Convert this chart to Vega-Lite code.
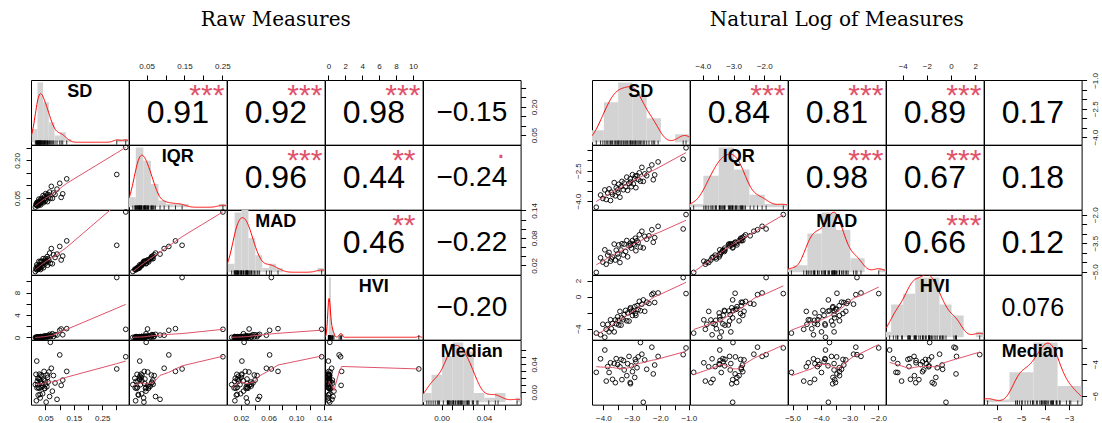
{
"$schema":"https://vega.github.io/schema/vega-lite/v6.json",
"background":"white",
"padding":{"left":12,"top":9,"right":0,"bottom":0},
"datasets":{
"raw":[
{"SD":0.01426,"IQR":0.01357,"MAD":0.006474,"HVI":0.01046,"Median":0.011},
{"SD":0.01657,"IQR":0.02472,"MAD":0.01398,"HVI":0.00848,"Median":0.02573},
{"SD":0.01795,"IQR":0.02086,"MAD":0.01111,"HVI":0.03143,"Median":-0.012},
{"SD":0.01925,"IQR":0.03174,"MAD":0.02128,"HVI":0.00622,"Median":0.0446},
{"SD":0.02024,"IQR":0.01984,"MAD":0.009953,"HVI":0.01674,"Median":0.006346},
{"SD":0.02128,"IQR":0.02732,"MAD":0.01608,"HVI":0.03081,"Median":0.01576},
{"SD":0.02237,"IQR":0.03337,"MAD":0.0185,"HVI":0.01216,"Median":0.01089},
{"SD":0.02352,"IQR":0.01887,"MAD":0.01168,"HVI":0.05502,"Median":0.02004},
{"SD":0.02424,"IQR":0.02844,"MAD":0.01317,"HVI":0.01795,"Median":-0.004},
{"SD":0.02522,"IQR":0.02548,"MAD":0.01455,"HVI":0.03474,"Median":0.007083},
{"SD":0.02678,"IQR":0.0455,"MAD":0.02872,"HVI":0.01216,"Median":0.01906},
{"SD":0.02788,"IQR":0.02375,"MAD":0.0124,"HVI":0.05393,"Median":0.005742},
{"SD":0.02872,"IQR":0.03508,"MAD":0.02086,"HVI":0.03304,"Median":0.02599},
{"SD":0.0302,"IQR":0.03174,"MAD":0.01708,"HVI":0.08046,"Median":0.01795},
{"SD":0.03143,"IQR":0.042,"MAD":0.0276,"HVI":0.02872,"Median":-0.008},
{"SD":0.03271,"IQR":0.02215,"MAD":0.01089,"HVI":0.1572,"Median":0.01561},
{"SD":0.03405,"IQR":0.03763,"MAD":0.02107,"HVI":0.02815,"Median":0.02472},
{"SD":0.03508,"IQR":0.04831,"MAD":0.0293,"HVI":0.06995,"Median":0.006943},
{"SD":0.03688,"IQR":0.03206,"MAD":0.01624,"HVI":0.05558,"Median":0.02305},
{"SD":0.03801,"IQR":0.0446,"MAD":0.02872,"HVI":0.1044,"Median":0.01278},
{"SD":0.03995,"IQR":0.03688,"MAD":0.01945,"HVI":0.1773,"Median":-0.002},
{"SD":0.04159,"IQR":0.0596,"MAD":0.03474,"HVI":0.04831,"Median":0.008916},
{"SD":0.04285,"IQR":0.03112,"MAD":0.0147,"HVI":0.1287,"Median":0.01887},
{"SD":0.04505,"IQR":0.04372,"MAD":0.02625,"HVI":0.04689,"Median":0.0299},
{"SD":0.04689,"IQR":0.05502,"MAD":0.0302,"HVI":0.2101,"Median":0.005799},
{"SD":0.0488,"IQR":0.03726,"MAD":0.02329,"HVI":0.162,"Median":0.01657},
{"SD":0.05079,"IQR":0.06721,"MAD":0.03474,"HVI":0.09442,"Median":0.01145},
{"SD":0.05234,"IQR":0.04285,"MAD":0.02901,"HVI":0.1653,"Median":-0.014},
{"SD":0.05502,"IQR":0.05558,"MAD":0.0276,"HVI":0.2837,"Median":0.007986},
{"SD":0.05727,"IQR":0.03544,"MAD":0.02024,"HVI":0.09537,"Median":0.02128},
{"SD":0.0596,"IQR":0.06393,"MAD":0.03439,"HVI":0.3198,"Median":0.0147},
{"SD":0.06204,"IQR":0.05286,"MAD":0.03143,"HVI":0.1999,"Median":0.02901},
{"SD":0.06457,"IQR":0.07354,"MAD":0.04689,"HVI":0.5488,"Median":-0.006},
{"SD":0.06721,"IQR":0.0488,"MAD":0.02448,"HVI":0.1703,"Median":0.07136},
{"SD":0.07065,"IQR":0.09633,"MAD":0.05671,"HVI":0.3867,"Median":0.03439},
{"SD":0.07427,"IQR":0.04831,"MAD":0.02352,"HVI":0.657,"Median":0.001679},
{"SD":0.07808,"IQR":0.06995,"MAD":0.04328,"HVI":0.1588,"Median":0.02399},
{"SD":0.08374,"IQR":0.06393,"MAD":0.03726,"HVI":0.4966,"Median":0.0133},
{"SD":0.09072,"IQR":0.08544,"MAD":0.0446,"HVI":0.4232,"Median":-0.01},
{"SD":0.1003,"IQR":0.1086,"MAD":0.06142,"HVI":1.271,"Median":0.0534},
{"SD":0.1108,"IQR":0.06653,"MAD":0.04036,"HVI":0.4771,"Median":0.01742},
{"SD":0.1249,"IQR":0.1262,"MAD":0.07354,"HVI":1.568,"Median":0.0299},
{"SD":0.1054,"IQR":0.05234,"MAD":0.03175,"HVI":1.507,"Median":0.009953},
{"SD":0.3012,"IQR":0.1437,"MAD":0.06393,"HVI":10.7,"Median":0.03337},
{"SD":0.3329,"IQR":0.2516,"MAD":0.1367,"HVI":1.448,"Median":0.05079},
{"SD":0.03081,"IQR":0.02788,"MAD":0.01441,"HVI":0.0513,"Median":-0.003},
{"SD":0.04736,"IQR":0.04689,"MAD":0.02732,"HVI":0.2466,"Median":0.005353},
{"SD":0.05614,"IQR":0.06266,"MAD":0.03916,"HVI":0.12,"Median":0.02472}
],
"logs":[
{"SD":-4.25,"IQR":-4.3,"MAD":-5.04,"HVI":-4.56,"Median":-4.51},
{"SD":-4.1,"IQR":-3.7,"MAD":-4.27,"HVI":-4.77,"Median":-3.66},
{"SD":-4.02,"IQR":-3.87,"MAD":-4.5,"HVI":-3.46,"Median":null},
{"SD":-3.95,"IQR":-3.45,"MAD":-3.85,"HVI":-5.08,"Median":-3.11},
{"SD":-3.9,"IQR":-3.92,"MAD":-4.61,"HVI":-4.09,"Median":-5.06},
{"SD":-3.85,"IQR":-3.6,"MAD":-4.13,"HVI":-3.48,"Median":-4.15},
{"SD":-3.8,"IQR":-3.4,"MAD":-3.99,"HVI":-4.41,"Median":-4.52},
{"SD":-3.75,"IQR":-3.97,"MAD":-4.45,"HVI":-2.9,"Median":-3.91},
{"SD":-3.72,"IQR":-3.56,"MAD":-4.33,"HVI":-4.02,"Median":null},
{"SD":-3.68,"IQR":-3.67,"MAD":-4.23,"HVI":-3.36,"Median":-4.95},
{"SD":-3.62,"IQR":-3.09,"MAD":-3.55,"HVI":-4.41,"Median":-3.96},
{"SD":-3.58,"IQR":-3.74,"MAD":-4.39,"HVI":-2.92,"Median":-5.16},
{"SD":-3.55,"IQR":-3.35,"MAD":-3.87,"HVI":-3.41,"Median":-3.65},
{"SD":-3.5,"IQR":-3.45,"MAD":-4.07,"HVI":-2.52,"Median":-4.02},
{"SD":-3.46,"IQR":-3.17,"MAD":-3.59,"HVI":-3.55,"Median":null},
{"SD":-3.42,"IQR":-3.81,"MAD":-4.52,"HVI":-1.85,"Median":-4.16},
{"SD":-3.38,"IQR":-3.28,"MAD":-3.86,"HVI":-3.57,"Median":-3.7},
{"SD":-3.35,"IQR":-3.03,"MAD":-3.53,"HVI":-2.66,"Median":-4.97},
{"SD":-3.3,"IQR":-3.44,"MAD":-4.12,"HVI":-2.89,"Median":-3.77},
{"SD":-3.27,"IQR":-3.11,"MAD":-3.55,"HVI":-2.26,"Median":-4.36},
{"SD":-3.22,"IQR":-3.3,"MAD":-3.94,"HVI":-1.73,"Median":null},
{"SD":-3.18,"IQR":-2.82,"MAD":-3.36,"HVI":-3.03,"Median":-4.72},
{"SD":-3.15,"IQR":-3.47,"MAD":-4.22,"HVI":-2.05,"Median":-3.97},
{"SD":-3.1,"IQR":-3.13,"MAD":-3.64,"HVI":-3.06,"Median":-3.51},
{"SD":-3.06,"IQR":-2.9,"MAD":-3.5,"HVI":-1.56,"Median":-5.15},
{"SD":-3.02,"IQR":-3.29,"MAD":-3.76,"HVI":-1.82,"Median":-4.1},
{"SD":-2.98,"IQR":-2.7,"MAD":-3.36,"HVI":-2.36,"Median":-4.47},
{"SD":-2.95,"IQR":-3.15,"MAD":-3.54,"HVI":-1.8,"Median":null},
{"SD":-2.9,"IQR":-2.89,"MAD":-3.59,"HVI":-1.26,"Median":-4.83},
{"SD":-2.86,"IQR":-3.34,"MAD":-3.9,"HVI":-2.35,"Median":-3.85},
{"SD":-2.82,"IQR":-2.75,"MAD":-3.37,"HVI":-1.14,"Median":-4.22},
{"SD":-2.78,"IQR":-2.94,"MAD":-3.46,"HVI":-1.61,"Median":-3.54},
{"SD":-2.74,"IQR":-2.61,"MAD":-3.06,"HVI":-0.6,"Median":null},
{"SD":-2.7,"IQR":-3.02,"MAD":-3.71,"HVI":-1.77,"Median":-2.64},
{"SD":-2.65,"IQR":-2.34,"MAD":-2.87,"HVI":-0.95,"Median":-3.37},
{"SD":-2.6,"IQR":-3.03,"MAD":-3.75,"HVI":-0.42,"Median":-6.39},
{"SD":-2.55,"IQR":-2.66,"MAD":-3.14,"HVI":-1.84,"Median":-3.73},
{"SD":-2.48,"IQR":-2.75,"MAD":-3.29,"HVI":-0.7,"Median":-4.32},
{"SD":-2.4,"IQR":-2.46,"MAD":-3.11,"HVI":-0.86,"Median":null},
{"SD":-2.3,"IQR":-2.22,"MAD":-2.79,"HVI":0.24,"Median":-2.93},
{"SD":-2.2,"IQR":-2.71,"MAD":-3.21,"HVI":-0.74,"Median":-4.05},
{"SD":-2.08,"IQR":-2.07,"MAD":-2.61,"HVI":0.45,"Median":-3.51},
{"SD":-2.25,"IQR":-2.95,"MAD":-3.45,"HVI":0.41,"Median":-4.61},
{"SD":-1.2,"IQR":-1.94,"MAD":-2.75,"HVI":2.37,"Median":-3.4},
{"SD":-1.1,"IQR":-1.38,"MAD":-1.99,"HVI":0.37,"Median":-2.98},
{"SD":-3.48,"IQR":-3.58,"MAD":-4.24,"HVI":-2.97,"Median":null},
{"SD":-3.05,"IQR":-3.06,"MAD":-3.6,"HVI":-1.4,"Median":-5.23},
{"SD":-2.88,"IQR":-2.77,"MAD":-3.24,"HVI":-2.12,"Median":-3.7}
]},
"columns":11,
"spacing":0,
"bounds":"flush",
"align":"each",
"concat":[
{"width":97.6,"height":64.66,"data":{"name":"raw"},"layer":[
{"mark":{"type":"bar","color":"#D3D3D3","binSpacing":0,"clip":true},"encoding":{"x":{"field":"SD","type":"quantitative","bin":{"step":0.02},"scale":{"domain":[-0.001,0.343],"nice":false,"zero":false},"axis":null},"y":{"aggregate":"count","type":"quantitative","scale":{"domain":[-0.72,18.72],"nice":false,"zero":false},"axis":null}}},
{"transform":[{"density":"SD","bandwidth":0.012,"extent":[-0.001,0.343]}],"mark":{"type":"line","color":"red","strokeWidth":1,"clip":true},"encoding":{"x":{"field":"value","type":"quantitative","scale":{"domain":[-0.001,0.343],"nice":false,"zero":false},"axis":null},"y":{"field":"density","type":"quantitative","scale":{"domain":[-0.75,19.5],"nice":false,"zero":false},"axis":null}}},
{"mark":{"type":"rule","color":"black","strokeWidth":0.8},"encoding":{"x":{"field":"SD","type":"quantitative","scale":{"domain":[-0.001,0.343],"nice":false,"zero":false},"axis":null},"y":{"datum":-0.72,"type":"quantitative","scale":{"domain":[-0.72,18.72],"nice":false,"zero":false},"axis":null},"y2":{"datum":0.54}}},
{"data":{"values":[{"name":"SD"}]},"mark":{"type":"text","fontSize":18,"fontWeight":"bold","dy":-20},"encoding":{"text":{"field":"name"}}}
],"resolve":{"scale":{"y":"independent"}}},
{"width":97.6,"height":64.66,"data":{"values":[{"r":"0.91","sig":"***"}]},"layer":[
{"mark":{"type":"text","fontSize":32,"dy":1},"encoding":{"text":{"field":"r"}}},
{"mark":{"type":"text","fontSize":30,"color":"#DF536B","baseline":"alphabetic","dx":29,"dy":-7},"encoding":{"text":{"field":"sig"}}},
{"data":{"name":"raw"},"mark":{"type":"point","opacity":0},"encoding":{"x":{"field":"IQR","type":"quantitative","scale":{"domain":[0.0034,0.2613],"nice":false,"zero":false},"axis":{"orient":"top","values":[0.05,0.1,0.15,0.2,0.25],"format":".2f","labelExpr":"indexof([0.05,0.15,0.25],datum.value)>=0?datum.label:''","title":null}}}}
]},
{"width":97.6,"height":64.66,"title":{"text":"Raw Measures","offset":50},"data":{"values":[{"r":"0.92","sig":"***"}]},"layer":[
{"mark":{"type":"text","fontSize":32,"dy":1},"encoding":{"text":{"field":"r"}}},
{"mark":{"type":"text","fontSize":30,"color":"#DF536B","baseline":"alphabetic","dx":29,"dy":-7},"encoding":{"text":{"field":"sig"}}},
{"data":{"name":"raw"},"mark":{"type":"point","opacity":0},"encoding":{"x":{"field":"SD","type":"quantitative","axis":null},"y":{"field":"SD","type":"quantitative","axis":null}}}
]},
{"width":97.6,"height":64.66,"data":{"values":[{"r":"0.98","sig":"***"}]},"layer":[
{"mark":{"type":"text","fontSize":32,"dy":1},"encoding":{"text":{"field":"r"}}},
{"mark":{"type":"text","fontSize":30,"color":"#DF536B","baseline":"alphabetic","dx":29,"dy":-7},"encoding":{"text":{"field":"sig"}}},
{"data":{"name":"raw"},"mark":{"type":"point","opacity":0},"encoding":{"x":{"field":"HVI","type":"quantitative","scale":{"domain":[-0.4,11.15],"nice":false,"zero":false},"axis":{"orient":"top","values":[0,2,4,6,8,10],"format":"d","title":null}}}}
]},
{"width":97.6,"height":64.66,"data":{"values":[{"r":"−0.15"}]},"layer":[
{"mark":{"type":"text","fontSize":28,"dy":1},"encoding":{"text":{"field":"r"}}},
{"data":{"name":"raw"},"mark":{"type":"point","opacity":0},"encoding":{"y":{"field":"SD","type":"quantitative","scale":{"domain":[-0.001,0.343],"nice":false,"zero":false},"axis":{"orient":"right","values":[0.05,0.1,0.15,0.2,0.25,0.3],"format":".2f","labelAngle":270,"labelExpr":"indexof([0.05,0.2],datum.value)>=0?datum.label:''","title":null}}}}
]},
{"width":71,"height":64.66,"view":{"stroke":null},"data":{"values":[{}]},"mark":{"type":"text"},"encoding":{"text":{"value":""}}},
{"width":97.6,"height":64.66,"data":{"name":"logs"},"layer":[
{"mark":{"type":"bar","color":"#D3D3D3","binSpacing":0,"clip":true},"encoding":{"x":{"field":"SD","type":"quantitative","bin":{"step":0.5},"scale":{"domain":[-4.4,-0.975],"nice":false,"zero":false},"axis":null},"y":{"aggregate":"count","type":"quantitative","scale":{"domain":[-0.6,15.6],"nice":false,"zero":false},"axis":null}}},
{"transform":[{"density":"SD","bandwidth":0.23,"extent":[-4.4,-0.975]}],"mark":{"type":"line","color":"red","strokeWidth":1,"clip":true},"encoding":{"x":{"field":"value","type":"quantitative","scale":{"domain":[-4.4,-0.975],"nice":false,"zero":false},"axis":null},"y":{"field":"density","type":"quantitative","scale":{"domain":[-0.025,0.65],"nice":false,"zero":false},"axis":null}}},
{"mark":{"type":"rule","color":"black","strokeWidth":0.8},"encoding":{"x":{"field":"SD","type":"quantitative","scale":{"domain":[-4.4,-0.975],"nice":false,"zero":false},"axis":null},"y":{"datum":-0.6,"type":"quantitative","scale":{"domain":[-0.6,15.6],"nice":false,"zero":false},"axis":null},"y2":{"datum":0.45}}},
{"data":{"values":[{"name":"SD"}]},"mark":{"type":"text","fontSize":18,"fontWeight":"bold","dy":-20},"encoding":{"text":{"field":"name"}}}
],"resolve":{"scale":{"y":"independent"}}},
{"width":97.6,"height":64.66,"data":{"values":[{"r":"0.84","sig":"***"}]},"layer":[
{"mark":{"type":"text","fontSize":32,"dy":1},"encoding":{"text":{"field":"r"}}},
{"mark":{"type":"text","fontSize":30,"color":"#DF536B","baseline":"alphabetic","dx":29,"dy":-7},"encoding":{"text":{"field":"sig"}}},
{"data":{"name":"logs"},"mark":{"type":"point","opacity":0},"encoding":{"x":{"field":"IQR","type":"quantitative","scale":{"domain":[-4.42,-1.24],"nice":false,"zero":false},"axis":{"orient":"top","values":[-4,-3.5,-3,-2.5,-2,-1.5],"format":".1f","labelExpr":"indexof([-4,-3,-2],datum.value)>=0?datum.label:''","title":null}}}}
]},
{"width":97.6,"height":64.66,"title":{"text":"Natural Log of Measures","offset":50},"data":{"values":[{"r":"0.81","sig":"***"}]},"layer":[
{"mark":{"type":"text","fontSize":32,"dy":1},"encoding":{"text":{"field":"r"}}},
{"mark":{"type":"text","fontSize":30,"color":"#DF536B","baseline":"alphabetic","dx":29,"dy":-7},"encoding":{"text":{"field":"sig"}}},
{"data":{"name":"raw"},"mark":{"type":"point","opacity":0},"encoding":{"x":{"field":"SD","type":"quantitative","axis":null},"y":{"field":"SD","type":"quantitative","axis":null}}}
]},
{"width":97.6,"height":64.66,"data":{"values":[{"r":"0.89","sig":"***"}]},"layer":[
{"mark":{"type":"text","fontSize":32,"dy":1},"encoding":{"text":{"field":"r"}}},
{"mark":{"type":"text","fontSize":30,"color":"#DF536B","baseline":"alphabetic","dx":29,"dy":-7},"encoding":{"text":{"field":"sig"}}},
{"data":{"name":"logs"},"mark":{"type":"point","opacity":0},"encoding":{"x":{"field":"HVI","type":"quantitative","scale":{"domain":[-5.38,2.69],"nice":false,"zero":false},"axis":{"orient":"top","values":[-4,-2,0,2],"format":"d","title":null}}}}
]},
{"width":97.6,"height":64.66,"data":{"values":[{"r":"0.17"}]},"layer":[
{"mark":{"type":"text","fontSize":32,"dy":1},"encoding":{"text":{"field":"r"}}},
{"data":{"name":"logs"},"mark":{"type":"point","opacity":0},"encoding":{"y":{"field":"SD","type":"quantitative","scale":{"domain":[-4.4,-0.975],"nice":false,"zero":false},"axis":{"orient":"right","values":[-4,-3.5,-3,-2.5,-2,-1.5,-1],"format":".1f","labelAngle":270,"labelExpr":"indexof([-4,-2.5,-1],datum.value)>=0?datum.label:''","title":null}}}}
]},

{"width":97.6,"height":64.66,"data":{"name":"raw"},"layer":[
{"mark":{"type":"point","filled":false,"color":"black","size":22,"strokeWidth":0.9,"opacity":1},"encoding":{"x":{"field":"SD","type":"quantitative","scale":{"domain":[-0.001,0.343],"nice":false,"zero":false},"axis":null},"y":{"field":"IQR","type":"quantitative","scale":{"domain":[0.0034,0.2613],"nice":false,"zero":false},"axis":{"orient":"left","values":[0.05,0.1,0.15,0.2,0.25],"format":".2f","labelAngle":270,"labelExpr":"indexof([0.05,0.2],datum.value)>=0?datum.label:''","title":null}}}},
{"transform":[{"loess":"IQR","on":"SD","bandwidth":0.6667}],"mark":{"type":"line","color":"#DF536B","strokeWidth":1,"clip":true},"encoding":{"x":{"field":"SD","type":"quantitative","scale":{"domain":[-0.001,0.343],"nice":false,"zero":false},"axis":null},"y":{"field":"IQR","type":"quantitative","scale":{"domain":[0.0034,0.2613],"nice":false,"zero":false},"axis":{"orient":"left","values":[0.05,0.1,0.15,0.2,0.25],"format":".2f","labelAngle":270,"labelExpr":"indexof([0.05,0.2],datum.value)>=0?datum.label:''","title":null}}}}
]},
{"width":97.6,"height":64.66,"data":{"name":"raw"},"layer":[
{"mark":{"type":"bar","color":"#D3D3D3","binSpacing":0,"clip":true},"encoding":{"x":{"field":"IQR","type":"quantitative","bin":{"step":0.02},"scale":{"domain":[0.0034,0.2613],"nice":false,"zero":false},"axis":null},"y":{"aggregate":"count","type":"quantitative","scale":{"domain":[-0.72,18.72],"nice":false,"zero":false},"axis":null}}},
{"transform":[{"density":"IQR","bandwidth":0.013,"extent":[0.0034,0.2613]}],"mark":{"type":"line","color":"red","strokeWidth":1,"clip":true},"encoding":{"x":{"field":"value","type":"quantitative","scale":{"domain":[0.0034,0.2613],"nice":false,"zero":false},"axis":null},"y":{"field":"density","type":"quantitative","scale":{"domain":[-0.75,19.5],"nice":false,"zero":false},"axis":null}}},
{"mark":{"type":"rule","color":"black","strokeWidth":0.8},"encoding":{"x":{"field":"IQR","type":"quantitative","scale":{"domain":[0.0034,0.2613],"nice":false,"zero":false},"axis":null},"y":{"datum":-0.72,"type":"quantitative","scale":{"domain":[-0.72,18.72],"nice":false,"zero":false},"axis":null},"y2":{"datum":0.54}}},
{"data":{"values":[{"name":"IQR"}]},"mark":{"type":"text","fontSize":18,"fontWeight":"bold","dy":-20},"encoding":{"text":{"field":"name"}}}
],"resolve":{"scale":{"y":"independent"}}},
{"width":97.6,"height":64.66,"data":{"values":[{"r":"0.96","sig":"***"}]},"layer":[
{"mark":{"type":"text","fontSize":32,"dy":1},"encoding":{"text":{"field":"r"}}},
{"mark":{"type":"text","fontSize":30,"color":"#DF536B","baseline":"alphabetic","dx":29,"dy":-7},"encoding":{"text":{"field":"sig"}}},
{"data":{"name":"raw"},"mark":{"type":"point","opacity":0},"encoding":{"x":{"field":"SD","type":"quantitative","axis":null},"y":{"field":"SD","type":"quantitative","axis":null}}}
]},
{"width":97.6,"height":64.66,"data":{"values":[{"r":"0.44","sig":"**"}]},"layer":[
{"mark":{"type":"text","fontSize":32,"dy":1},"encoding":{"text":{"field":"r"}}},
{"mark":{"type":"text","fontSize":30,"color":"#DF536B","baseline":"alphabetic","dx":30,"dy":-7},"encoding":{"text":{"field":"sig"}}},
{"data":{"name":"raw"},"mark":{"type":"point","opacity":0},"encoding":{"x":{"field":"SD","type":"quantitative","axis":null},"y":{"field":"SD","type":"quantitative","axis":null}}}
]},
{"width":97.6,"height":64.66,"data":{"values":[{"r":"−0.24","sig":"."}]},"layer":[
{"mark":{"type":"text","fontSize":28,"dy":1},"encoding":{"text":{"field":"r"}}},
{"mark":{"type":"text","fontSize":30,"color":"#DF536B","baseline":"alphabetic","dx":29,"dy":-19},"encoding":{"text":{"field":"sig"}}},
{"data":{"name":"raw"},"mark":{"type":"point","opacity":0},"encoding":{"x":{"field":"SD","type":"quantitative","axis":null},"y":{"field":"SD","type":"quantitative","axis":null}}}
]},
{"width":71,"height":64.66,"view":{"stroke":null},"data":{"values":[{}]},"mark":{"type":"text"},"encoding":{"text":{"value":""}}},
{"width":97.6,"height":64.66,"data":{"name":"logs"},"layer":[
{"mark":{"type":"point","filled":false,"color":"black","size":22,"strokeWidth":0.9,"opacity":1},"encoding":{"x":{"field":"SD","type":"quantitative","scale":{"domain":[-4.4,-0.975],"nice":false,"zero":false},"axis":null},"y":{"field":"IQR","type":"quantitative","scale":{"domain":[-4.42,-1.24],"nice":false,"zero":false},"axis":{"orient":"left","values":[-4,-3.5,-3,-2.5,-2,-1.5],"format":".1f","labelAngle":270,"labelExpr":"indexof([-4,-2.5],datum.value)>=0?datum.label:''","title":null}}}},
{"transform":[{"loess":"IQR","on":"SD","bandwidth":0.6667}],"mark":{"type":"line","color":"#DF536B","strokeWidth":1,"clip":true},"encoding":{"x":{"field":"SD","type":"quantitative","scale":{"domain":[-4.4,-0.975],"nice":false,"zero":false},"axis":null},"y":{"field":"IQR","type":"quantitative","scale":{"domain":[-4.42,-1.24],"nice":false,"zero":false},"axis":{"orient":"left","values":[-4,-3.5,-3,-2.5,-2,-1.5],"format":".1f","labelAngle":270,"labelExpr":"indexof([-4,-2.5],datum.value)>=0?datum.label:''","title":null}}}}
]},
{"width":97.6,"height":64.66,"data":{"name":"logs"},"layer":[
{"mark":{"type":"bar","color":"#D3D3D3","binSpacing":0,"clip":true},"encoding":{"x":{"field":"IQR","type":"quantitative","bin":{"step":0.5},"scale":{"domain":[-4.42,-1.24],"nice":false,"zero":false},"axis":null},"y":{"aggregate":"count","type":"quantitative","scale":{"domain":[-0.76,19.76],"nice":false,"zero":false},"axis":null}}},
{"transform":[{"density":"IQR","bandwidth":0.22,"extent":[-4.42,-1.24]}],"mark":{"type":"line","color":"red","strokeWidth":1,"clip":true},"encoding":{"x":{"field":"value","type":"quantitative","scale":{"domain":[-4.42,-1.24],"nice":false,"zero":false},"axis":null},"y":{"field":"density","type":"quantitative","scale":{"domain":[-0.0317,0.823],"nice":false,"zero":false},"axis":null}}},
{"mark":{"type":"rule","color":"black","strokeWidth":0.8},"encoding":{"x":{"field":"IQR","type":"quantitative","scale":{"domain":[-4.42,-1.24],"nice":false,"zero":false},"axis":null},"y":{"datum":-0.76,"type":"quantitative","scale":{"domain":[-0.76,19.76],"nice":false,"zero":false},"axis":null},"y2":{"datum":0.57}}},
{"data":{"values":[{"name":"IQR"}]},"mark":{"type":"text","fontSize":18,"fontWeight":"bold","dy":-20},"encoding":{"text":{"field":"name"}}}
],"resolve":{"scale":{"y":"independent"}}},
{"width":97.6,"height":64.66,"data":{"values":[{"r":"0.98","sig":"***"}]},"layer":[
{"mark":{"type":"text","fontSize":32,"dy":1},"encoding":{"text":{"field":"r"}}},
{"mark":{"type":"text","fontSize":30,"color":"#DF536B","baseline":"alphabetic","dx":29,"dy":-7},"encoding":{"text":{"field":"sig"}}},
{"data":{"name":"raw"},"mark":{"type":"point","opacity":0},"encoding":{"x":{"field":"SD","type":"quantitative","axis":null},"y":{"field":"SD","type":"quantitative","axis":null}}}
]},
{"width":97.6,"height":64.66,"data":{"values":[{"r":"0.67","sig":"***"}]},"layer":[
{"mark":{"type":"text","fontSize":32,"dy":1},"encoding":{"text":{"field":"r"}}},
{"mark":{"type":"text","fontSize":30,"color":"#DF536B","baseline":"alphabetic","dx":29,"dy":-7},"encoding":{"text":{"field":"sig"}}},
{"data":{"name":"raw"},"mark":{"type":"point","opacity":0},"encoding":{"x":{"field":"SD","type":"quantitative","axis":null},"y":{"field":"SD","type":"quantitative","axis":null}}}
]},
{"width":97.6,"height":64.66,"data":{"values":[{"r":"0.18"}]},"layer":[
{"mark":{"type":"text","fontSize":32,"dy":1},"encoding":{"text":{"field":"r"}}},
{"data":{"name":"raw"},"mark":{"type":"point","opacity":0},"encoding":{"x":{"field":"SD","type":"quantitative","axis":null},"y":{"field":"SD","type":"quantitative","axis":null}}}
]},

{"width":97.6,"height":64.66,"data":{"name":"raw"},"layer":[
{"mark":{"type":"point","filled":false,"color":"black","size":22,"strokeWidth":0.9,"opacity":1},"encoding":{"x":{"field":"SD","type":"quantitative","scale":{"domain":[-0.001,0.343],"nice":false,"zero":false},"axis":null},"y":{"field":"MAD","type":"quantitative","scale":{"domain":[-0.0003,0.141],"nice":false,"zero":false},"axis":null}}},
{"transform":[{"loess":"MAD","on":"SD","bandwidth":0.6667}],"mark":{"type":"line","color":"#DF536B","strokeWidth":1,"clip":true},"encoding":{"x":{"field":"SD","type":"quantitative","scale":{"domain":[-0.001,0.343],"nice":false,"zero":false},"axis":null},"y":{"field":"MAD","type":"quantitative","scale":{"domain":[-0.0003,0.141],"nice":false,"zero":false},"axis":null}}}
]},
{"width":97.6,"height":64.66,"data":{"name":"raw"},"layer":[
{"mark":{"type":"point","filled":false,"color":"black","size":22,"strokeWidth":0.9,"opacity":1},"encoding":{"x":{"field":"IQR","type":"quantitative","scale":{"domain":[0.0034,0.2613],"nice":false,"zero":false},"axis":null},"y":{"field":"MAD","type":"quantitative","scale":{"domain":[-0.0003,0.141],"nice":false,"zero":false},"axis":null}}},
{"transform":[{"loess":"MAD","on":"IQR","bandwidth":0.6667}],"mark":{"type":"line","color":"#DF536B","strokeWidth":1,"clip":true},"encoding":{"x":{"field":"IQR","type":"quantitative","scale":{"domain":[0.0034,0.2613],"nice":false,"zero":false},"axis":null},"y":{"field":"MAD","type":"quantitative","scale":{"domain":[-0.0003,0.141],"nice":false,"zero":false},"axis":null}}}
]},
{"width":97.6,"height":64.66,"data":{"name":"raw"},"layer":[
{"mark":{"type":"bar","color":"#D3D3D3","binSpacing":0,"clip":true},"encoding":{"x":{"field":"MAD","type":"quantitative","bin":{"step":0.01},"scale":{"domain":[-0.0003,0.141],"nice":false,"zero":false},"axis":null},"y":{"aggregate":"count","type":"quantitative","scale":{"domain":[-0.56,14.56],"nice":false,"zero":false},"axis":null}}},
{"transform":[{"density":"MAD","bandwidth":0.0075,"extent":[-0.0003,0.141]}],"mark":{"type":"line","color":"red","strokeWidth":1,"clip":true},"encoding":{"x":{"field":"value","type":"quantitative","scale":{"domain":[-0.0003,0.141],"nice":false,"zero":false},"axis":null},"y":{"field":"density","type":"quantitative","scale":{"domain":[-1.167,30.33],"nice":false,"zero":false},"axis":null}}},
{"mark":{"type":"rule","color":"black","strokeWidth":0.8},"encoding":{"x":{"field":"MAD","type":"quantitative","scale":{"domain":[-0.0003,0.141],"nice":false,"zero":false},"axis":null},"y":{"datum":-0.56,"type":"quantitative","scale":{"domain":[-0.56,14.56],"nice":false,"zero":false},"axis":null},"y2":{"datum":0.42}}},
{"data":{"values":[{"name":"MAD"}]},"mark":{"type":"text","fontSize":18,"fontWeight":"bold","dy":-20},"encoding":{"text":{"field":"name"}}}
],"resolve":{"scale":{"y":"independent"}}},
{"width":97.6,"height":64.66,"data":{"values":[{"r":"0.46","sig":"**"}]},"layer":[
{"mark":{"type":"text","fontSize":32,"dy":1},"encoding":{"text":{"field":"r"}}},
{"mark":{"type":"text","fontSize":30,"color":"#DF536B","baseline":"alphabetic","dx":30,"dy":-7},"encoding":{"text":{"field":"sig"}}},
{"data":{"name":"raw"},"mark":{"type":"point","opacity":0},"encoding":{"x":{"field":"SD","type":"quantitative","axis":null},"y":{"field":"SD","type":"quantitative","axis":null}}}
]},
{"width":97.6,"height":64.66,"data":{"values":[{"r":"−0.22"}]},"layer":[
{"mark":{"type":"text","fontSize":28,"dy":1},"encoding":{"text":{"field":"r"}}},
{"data":{"name":"raw"},"mark":{"type":"point","opacity":0},"encoding":{"y":{"field":"MAD","type":"quantitative","scale":{"domain":[-0.0003,0.141],"nice":false,"zero":false},"axis":{"orient":"right","values":[0.02,0.04,0.06,0.08,0.1,0.12,0.14],"format":".2f","labelAngle":270,"labelExpr":"indexof([0.02,0.08,0.14],datum.value)>=0?datum.label:''","title":null}}}}
]},
{"width":71,"height":64.66,"view":{"stroke":null},"data":{"values":[{}]},"mark":{"type":"text"},"encoding":{"text":{"value":""}}},
{"width":97.6,"height":64.66,"data":{"name":"logs"},"layer":[
{"mark":{"type":"point","filled":false,"color":"black","size":22,"strokeWidth":0.9,"opacity":1},"encoding":{"x":{"field":"SD","type":"quantitative","scale":{"domain":[-4.4,-0.975],"nice":false,"zero":false},"axis":null},"y":{"field":"MAD","type":"quantitative","scale":{"domain":[-5.16,-1.75],"nice":false,"zero":false},"axis":null}}},
{"transform":[{"loess":"MAD","on":"SD","bandwidth":0.6667}],"mark":{"type":"line","color":"#DF536B","strokeWidth":1,"clip":true},"encoding":{"x":{"field":"SD","type":"quantitative","scale":{"domain":[-4.4,-0.975],"nice":false,"zero":false},"axis":null},"y":{"field":"MAD","type":"quantitative","scale":{"domain":[-5.16,-1.75],"nice":false,"zero":false},"axis":null}}}
]},
{"width":97.6,"height":64.66,"data":{"name":"logs"},"layer":[
{"mark":{"type":"point","filled":false,"color":"black","size":22,"strokeWidth":0.9,"opacity":1},"encoding":{"x":{"field":"IQR","type":"quantitative","scale":{"domain":[-4.42,-1.24],"nice":false,"zero":false},"axis":null},"y":{"field":"MAD","type":"quantitative","scale":{"domain":[-5.16,-1.75],"nice":false,"zero":false},"axis":null}}},
{"transform":[{"loess":"MAD","on":"IQR","bandwidth":0.6667}],"mark":{"type":"line","color":"#DF536B","strokeWidth":1,"clip":true},"encoding":{"x":{"field":"IQR","type":"quantitative","scale":{"domain":[-4.42,-1.24],"nice":false,"zero":false},"axis":null},"y":{"field":"MAD","type":"quantitative","scale":{"domain":[-5.16,-1.75],"nice":false,"zero":false},"axis":null}}}
]},
{"width":97.6,"height":64.66,"data":{"name":"logs"},"layer":[
{"mark":{"type":"bar","color":"#D3D3D3","binSpacing":0,"clip":true},"encoding":{"x":{"field":"MAD","type":"quantitative","bin":{"step":0.5},"scale":{"domain":[-5.16,-1.75],"nice":false,"zero":false},"axis":null},"y":{"aggregate":"count","type":"quantitative","scale":{"domain":[-0.68,17.68],"nice":false,"zero":false},"axis":null}}},
{"transform":[{"density":"MAD","bandwidth":0.2,"extent":[-5.16,-1.75]}],"mark":{"type":"line","color":"red","strokeWidth":1,"clip":true},"encoding":{"x":{"field":"value","type":"quantitative","scale":{"domain":[-5.16,-1.75],"nice":false,"zero":false},"axis":null},"y":{"field":"density","type":"quantitative","scale":{"domain":[-0.0283,0.737],"nice":false,"zero":false},"axis":null}}},
{"mark":{"type":"rule","color":"black","strokeWidth":0.8},"encoding":{"x":{"field":"MAD","type":"quantitative","scale":{"domain":[-5.16,-1.75],"nice":false,"zero":false},"axis":null},"y":{"datum":-0.68,"type":"quantitative","scale":{"domain":[-0.68,17.68],"nice":false,"zero":false},"axis":null},"y2":{"datum":0.51}}},
{"data":{"values":[{"name":"MAD"}]},"mark":{"type":"text","fontSize":18,"fontWeight":"bold","dy":-20},"encoding":{"text":{"field":"name"}}}
],"resolve":{"scale":{"y":"independent"}}},
{"width":97.6,"height":64.66,"data":{"values":[{"r":"0.66","sig":"***"}]},"layer":[
{"mark":{"type":"text","fontSize":32,"dy":1},"encoding":{"text":{"field":"r"}}},
{"mark":{"type":"text","fontSize":30,"color":"#DF536B","baseline":"alphabetic","dx":29,"dy":-7},"encoding":{"text":{"field":"sig"}}},
{"data":{"name":"raw"},"mark":{"type":"point","opacity":0},"encoding":{"x":{"field":"SD","type":"quantitative","axis":null},"y":{"field":"SD","type":"quantitative","axis":null}}}
]},
{"width":97.6,"height":64.66,"data":{"values":[{"r":"0.12"}]},"layer":[
{"mark":{"type":"text","fontSize":32,"dy":1},"encoding":{"text":{"field":"r"}}},
{"data":{"name":"logs"},"mark":{"type":"point","opacity":0},"encoding":{"y":{"field":"MAD","type":"quantitative","scale":{"domain":[-5.16,-1.75],"nice":false,"zero":false},"axis":{"orient":"right","values":[-5,-4.5,-4,-3.5,-3,-2.5,-2],"format":".1f","labelAngle":270,"labelExpr":"indexof([-5,-3.5,-2],datum.value)>=0?datum.label:''","title":null}}}}
]},

{"width":97.6,"height":64.66,"data":{"name":"raw"},"layer":[
{"mark":{"type":"point","filled":false,"color":"black","size":22,"strokeWidth":0.9,"opacity":1},"encoding":{"x":{"field":"SD","type":"quantitative","scale":{"domain":[-0.001,0.343],"nice":false,"zero":false},"axis":null},"y":{"field":"HVI","type":"quantitative","scale":{"domain":[-0.4,11.15],"nice":false,"zero":false},"axis":{"orient":"left","values":[0,2,4,6,8,10],"format":"d","labelAngle":270,"labelExpr":"indexof([0,4,8],datum.value)>=0?datum.label:''","title":null}}}},
{"transform":[{"loess":"HVI","on":"SD","bandwidth":0.6667}],"mark":{"type":"line","color":"#DF536B","strokeWidth":1,"clip":true},"encoding":{"x":{"field":"SD","type":"quantitative","scale":{"domain":[-0.001,0.343],"nice":false,"zero":false},"axis":null},"y":{"field":"HVI","type":"quantitative","scale":{"domain":[-0.4,11.15],"nice":false,"zero":false},"axis":{"orient":"left","values":[0,2,4,6,8,10],"format":"d","labelAngle":270,"labelExpr":"indexof([0,4,8],datum.value)>=0?datum.label:''","title":null}}}}
]},
{"width":97.6,"height":64.66,"data":{"name":"raw"},"layer":[
{"mark":{"type":"point","filled":false,"color":"black","size":22,"strokeWidth":0.9,"opacity":1},"encoding":{"x":{"field":"IQR","type":"quantitative","scale":{"domain":[0.0034,0.2613],"nice":false,"zero":false},"axis":null},"y":{"field":"HVI","type":"quantitative","scale":{"domain":[-0.4,11.15],"nice":false,"zero":false},"axis":null}}},
{"transform":[{"loess":"HVI","on":"IQR","bandwidth":0.6667}],"mark":{"type":"line","color":"#DF536B","strokeWidth":1,"clip":true},"encoding":{"x":{"field":"IQR","type":"quantitative","scale":{"domain":[0.0034,0.2613],"nice":false,"zero":false},"axis":null},"y":{"field":"HVI","type":"quantitative","scale":{"domain":[-0.4,11.15],"nice":false,"zero":false},"axis":null}}}
]},
{"width":97.6,"height":64.66,"data":{"name":"raw"},"layer":[
{"mark":{"type":"point","filled":false,"color":"black","size":22,"strokeWidth":0.9,"opacity":1},"encoding":{"x":{"field":"MAD","type":"quantitative","scale":{"domain":[-0.0003,0.141],"nice":false,"zero":false},"axis":null},"y":{"field":"HVI","type":"quantitative","scale":{"domain":[-0.4,11.15],"nice":false,"zero":false},"axis":null}}},
{"transform":[{"loess":"HVI","on":"MAD","bandwidth":0.6667}],"mark":{"type":"line","color":"#DF536B","strokeWidth":1,"clip":true},"encoding":{"x":{"field":"MAD","type":"quantitative","scale":{"domain":[-0.0003,0.141],"nice":false,"zero":false},"axis":null},"y":{"field":"HVI","type":"quantitative","scale":{"domain":[-0.4,11.15],"nice":false,"zero":false},"axis":null}}}
]},
{"width":97.6,"height":64.66,"data":{"name":"raw"},"layer":[
{"mark":{"type":"bar","color":"#D3D3D3","binSpacing":0,"clip":true},"encoding":{"x":{"field":"HVI","type":"quantitative","bin":{"step":0.25},"scale":{"domain":[-0.4,11.15],"nice":false,"zero":false},"axis":null},"y":{"aggregate":"count","type":"quantitative","scale":{"domain":[-1.4,36.4],"nice":false,"zero":false},"axis":null}}},
{"transform":[{"density":"HVI","bandwidth":0.14,"extent":[-0.4,11.15]}],"mark":{"type":"line","color":"red","strokeWidth":1,"clip":true},"encoding":{"x":{"field":"value","type":"quantitative","scale":{"domain":[-0.4,11.15],"nice":false,"zero":false},"axis":null},"y":{"field":"density","type":"quantitative","scale":{"domain":[-0.1167,3.033],"nice":false,"zero":false},"axis":null}}},
{"mark":{"type":"rule","color":"black","strokeWidth":0.8},"encoding":{"x":{"field":"HVI","type":"quantitative","scale":{"domain":[-0.4,11.15],"nice":false,"zero":false},"axis":null},"y":{"datum":-1.4,"type":"quantitative","scale":{"domain":[-1.4,36.4],"nice":false,"zero":false},"axis":null},"y2":{"datum":1.05}}},
{"data":{"values":[{"name":"HVI"}]},"mark":{"type":"text","fontSize":18,"fontWeight":"bold","dy":-20},"encoding":{"text":{"field":"name"}}}
],"resolve":{"scale":{"y":"independent"}}},
{"width":97.6,"height":64.66,"data":{"values":[{"r":"−0.20"}]},"layer":[
{"mark":{"type":"text","fontSize":28,"dy":1},"encoding":{"text":{"field":"r"}}},
{"data":{"name":"raw"},"mark":{"type":"point","opacity":0},"encoding":{"x":{"field":"SD","type":"quantitative","axis":null},"y":{"field":"SD","type":"quantitative","axis":null}}}
]},
{"width":71,"height":64.66,"view":{"stroke":null},"data":{"values":[{}]},"mark":{"type":"text"},"encoding":{"text":{"value":""}}},
{"width":97.6,"height":64.66,"data":{"name":"logs"},"layer":[
{"mark":{"type":"point","filled":false,"color":"black","size":22,"strokeWidth":0.9,"opacity":1},"encoding":{"x":{"field":"SD","type":"quantitative","scale":{"domain":[-4.4,-0.975],"nice":false,"zero":false},"axis":null},"y":{"field":"HVI","type":"quantitative","scale":{"domain":[-5.38,2.69],"nice":false,"zero":false},"axis":{"orient":"left","values":[-4,-2,0,2],"format":"d","labelAngle":270,"labelExpr":"indexof([-4,0,2],datum.value)>=0?datum.label:''","title":null}}}},
{"transform":[{"loess":"HVI","on":"SD","bandwidth":0.6667}],"mark":{"type":"line","color":"#DF536B","strokeWidth":1,"clip":true},"encoding":{"x":{"field":"SD","type":"quantitative","scale":{"domain":[-4.4,-0.975],"nice":false,"zero":false},"axis":null},"y":{"field":"HVI","type":"quantitative","scale":{"domain":[-5.38,2.69],"nice":false,"zero":false},"axis":{"orient":"left","values":[-4,-2,0,2],"format":"d","labelAngle":270,"labelExpr":"indexof([-4,0,2],datum.value)>=0?datum.label:''","title":null}}}}
]},
{"width":97.6,"height":64.66,"data":{"name":"logs"},"layer":[
{"mark":{"type":"point","filled":false,"color":"black","size":22,"strokeWidth":0.9,"opacity":1},"encoding":{"x":{"field":"IQR","type":"quantitative","scale":{"domain":[-4.42,-1.24],"nice":false,"zero":false},"axis":null},"y":{"field":"HVI","type":"quantitative","scale":{"domain":[-5.38,2.69],"nice":false,"zero":false},"axis":null}}},
{"transform":[{"loess":"HVI","on":"IQR","bandwidth":0.6667}],"mark":{"type":"line","color":"#DF536B","strokeWidth":1,"clip":true},"encoding":{"x":{"field":"IQR","type":"quantitative","scale":{"domain":[-4.42,-1.24],"nice":false,"zero":false},"axis":null},"y":{"field":"HVI","type":"quantitative","scale":{"domain":[-5.38,2.69],"nice":false,"zero":false},"axis":null}}}
]},
{"width":97.6,"height":64.66,"data":{"name":"logs"},"layer":[
{"mark":{"type":"point","filled":false,"color":"black","size":22,"strokeWidth":0.9,"opacity":1},"encoding":{"x":{"field":"MAD","type":"quantitative","scale":{"domain":[-5.16,-1.75],"nice":false,"zero":false},"axis":null},"y":{"field":"HVI","type":"quantitative","scale":{"domain":[-5.38,2.69],"nice":false,"zero":false},"axis":null}}},
{"transform":[{"loess":"HVI","on":"MAD","bandwidth":0.6667}],"mark":{"type":"line","color":"#DF536B","strokeWidth":1,"clip":true},"encoding":{"x":{"field":"MAD","type":"quantitative","scale":{"domain":[-5.16,-1.75],"nice":false,"zero":false},"axis":null},"y":{"field":"HVI","type":"quantitative","scale":{"domain":[-5.38,2.69],"nice":false,"zero":false},"axis":null}}}
]},
{"width":97.6,"height":64.66,"data":{"name":"logs"},"layer":[
{"mark":{"type":"bar","color":"#D3D3D3","binSpacing":0,"clip":true},"encoding":{"x":{"field":"HVI","type":"quantitative","bin":{"step":1},"scale":{"domain":[-5.38,2.69],"nice":false,"zero":false},"axis":null},"y":{"aggregate":"count","type":"quantitative","scale":{"domain":[-0.44,11.44],"nice":false,"zero":false},"axis":null}}},
{"transform":[{"density":"HVI","bandwidth":0.55,"extent":[-5.38,2.69]}],"mark":{"type":"line","color":"red","strokeWidth":1,"clip":true},"encoding":{"x":{"field":"value","type":"quantitative","scale":{"domain":[-5.38,2.69],"nice":false,"zero":false},"axis":null},"y":{"field":"density","type":"quantitative","scale":{"domain":[-0.00917,0.2383],"nice":false,"zero":false},"axis":null}}},
{"mark":{"type":"rule","color":"black","strokeWidth":0.8},"encoding":{"x":{"field":"HVI","type":"quantitative","scale":{"domain":[-5.38,2.69],"nice":false,"zero":false},"axis":null},"y":{"datum":-0.44,"type":"quantitative","scale":{"domain":[-0.44,11.44],"nice":false,"zero":false},"axis":null},"y2":{"datum":0.33}}},
{"data":{"values":[{"name":"HVI"}]},"mark":{"type":"text","fontSize":18,"fontWeight":"bold","dy":-20},"encoding":{"text":{"field":"name"}}}
],"resolve":{"scale":{"y":"independent"}}},
{"width":97.6,"height":64.66,"data":{"values":[{"r":"0.076"}]},"layer":[
{"mark":{"type":"text","fontSize":25,"dy":1},"encoding":{"text":{"field":"r"}}},
{"data":{"name":"raw"},"mark":{"type":"point","opacity":0},"encoding":{"x":{"field":"SD","type":"quantitative","axis":null},"y":{"field":"SD","type":"quantitative","axis":null}}}
]},

{"width":97.6,"height":64.66,"data":{"name":"raw"},"layer":[
{"mark":{"type":"point","filled":false,"color":"black","size":22,"strokeWidth":0.9,"opacity":1},"encoding":{"x":{"field":"SD","type":"quantitative","scale":{"domain":[-0.001,0.343],"nice":false,"zero":false},"axis":{"orient":"bottom","values":[0.05,0.1,0.15,0.2,0.25,0.3],"format":".2f","labelExpr":"indexof([0.05,0.15,0.25],datum.value)>=0?datum.label:''","title":null}},"y":{"field":"Median","type":"quantitative","scale":{"domain":[-0.0176,0.0747],"nice":false,"zero":false},"axis":null}}},
{"transform":[{"loess":"Median","on":"SD","bandwidth":0.6667}],"mark":{"type":"line","color":"#DF536B","strokeWidth":1,"clip":true},"encoding":{"x":{"field":"SD","type":"quantitative","scale":{"domain":[-0.001,0.343],"nice":false,"zero":false},"axis":{"orient":"bottom","values":[0.05,0.1,0.15,0.2,0.25,0.3],"format":".2f","labelExpr":"indexof([0.05,0.15,0.25],datum.value)>=0?datum.label:''","title":null}},"y":{"field":"Median","type":"quantitative","scale":{"domain":[-0.0176,0.0747],"nice":false,"zero":false},"axis":null}}}
]},
{"width":97.6,"height":64.66,"data":{"name":"raw"},"layer":[
{"mark":{"type":"point","filled":false,"color":"black","size":22,"strokeWidth":0.9,"opacity":1},"encoding":{"x":{"field":"IQR","type":"quantitative","scale":{"domain":[0.0034,0.2613],"nice":false,"zero":false},"axis":null},"y":{"field":"Median","type":"quantitative","scale":{"domain":[-0.0176,0.0747],"nice":false,"zero":false},"axis":null}}},
{"transform":[{"loess":"Median","on":"IQR","bandwidth":0.6667}],"mark":{"type":"line","color":"#DF536B","strokeWidth":1,"clip":true},"encoding":{"x":{"field":"IQR","type":"quantitative","scale":{"domain":[0.0034,0.2613],"nice":false,"zero":false},"axis":null},"y":{"field":"Median","type":"quantitative","scale":{"domain":[-0.0176,0.0747],"nice":false,"zero":false},"axis":null}}}
]},
{"width":97.6,"height":64.66,"data":{"name":"raw"},"layer":[
{"mark":{"type":"point","filled":false,"color":"black","size":22,"strokeWidth":0.9,"opacity":1},"encoding":{"x":{"field":"MAD","type":"quantitative","scale":{"domain":[-0.0003,0.141],"nice":false,"zero":false},"axis":{"orient":"bottom","values":[0.02,0.04,0.06,0.08,0.1,0.12,0.14],"format":".2f","labelExpr":"indexof([0.02,0.06,0.1,0.14],datum.value)>=0?datum.label:''","title":null}},"y":{"field":"Median","type":"quantitative","scale":{"domain":[-0.0176,0.0747],"nice":false,"zero":false},"axis":null}}},
{"transform":[{"loess":"Median","on":"MAD","bandwidth":0.6667}],"mark":{"type":"line","color":"#DF536B","strokeWidth":1,"clip":true},"encoding":{"x":{"field":"MAD","type":"quantitative","scale":{"domain":[-0.0003,0.141],"nice":false,"zero":false},"axis":{"orient":"bottom","values":[0.02,0.04,0.06,0.08,0.1,0.12,0.14],"format":".2f","labelExpr":"indexof([0.02,0.06,0.1,0.14],datum.value)>=0?datum.label:''","title":null}},"y":{"field":"Median","type":"quantitative","scale":{"domain":[-0.0176,0.0747],"nice":false,"zero":false},"axis":null}}}
]},
{"width":97.6,"height":64.66,"data":{"name":"raw"},"layer":[
{"mark":{"type":"point","filled":false,"color":"black","size":22,"strokeWidth":0.9,"opacity":1},"encoding":{"x":{"field":"HVI","type":"quantitative","scale":{"domain":[-0.4,11.15],"nice":false,"zero":false},"axis":null},"y":{"field":"Median","type":"quantitative","scale":{"domain":[-0.0176,0.0747],"nice":false,"zero":false},"axis":null}}},
{"transform":[{"loess":"Median","on":"HVI","bandwidth":0.6667}],"mark":{"type":"line","color":"#DF536B","strokeWidth":1,"clip":true},"encoding":{"x":{"field":"HVI","type":"quantitative","scale":{"domain":[-0.4,11.15],"nice":false,"zero":false},"axis":null},"y":{"field":"Median","type":"quantitative","scale":{"domain":[-0.0176,0.0747],"nice":false,"zero":false},"axis":null}}}
]},
{"width":97.6,"height":64.66,"data":{"name":"raw"},"layer":[
{"mark":{"type":"bar","color":"#D3D3D3","binSpacing":0,"clip":true},"encoding":{"x":{"field":"Median","type":"quantitative","bin":{"step":0.01},"scale":{"domain":[-0.0176,0.0747],"nice":false,"zero":false},"axis":{"orient":"bottom","values":[0,0.01,0.02,0.03,0.04,0.05,0.06],"format":".2f","labelExpr":"indexof([0,0.04],datum.value)>=0?datum.label:''","title":null}},"y":{"aggregate":"count","type":"quantitative","scale":{"domain":[-0.52,13.52],"nice":false,"zero":false},"axis":null}}},
{"transform":[{"density":"Median","bandwidth":0.0065,"extent":[-0.0176,0.0747]}],"mark":{"type":"line","color":"red","strokeWidth":1,"clip":true},"encoding":{"x":{"field":"value","type":"quantitative","scale":{"domain":[-0.0176,0.0747],"nice":false,"zero":false},"axis":{"orient":"bottom","values":[0,0.01,0.02,0.03,0.04,0.05,0.06],"format":".2f","labelExpr":"indexof([0,0.04],datum.value)>=0?datum.label:''","title":null}},"y":{"field":"density","type":"quantitative","scale":{"domain":[-1.083,28.17],"nice":false,"zero":false},"axis":null}}},
{"mark":{"type":"rule","color":"black","strokeWidth":0.8},"encoding":{"x":{"field":"Median","type":"quantitative","scale":{"domain":[-0.0176,0.0747],"nice":false,"zero":false},"axis":{"orient":"bottom","values":[0,0.01,0.02,0.03,0.04,0.05,0.06],"format":".2f","labelExpr":"indexof([0,0.04],datum.value)>=0?datum.label:''","title":null}},"y":{"datum":-0.52,"type":"quantitative","scale":{"domain":[-0.52,13.52],"nice":false,"zero":false},"axis":null},"y2":{"datum":0.39}}},
{"data":{"values":[{"name":"Median"}]},"mark":{"type":"text","fontSize":18,"fontWeight":"bold","dy":-20},"encoding":{"text":{"field":"name"}}},
{"mark":{"type":"point","opacity":0},"encoding":{"x":{"field":"Median","type":"quantitative","scale":{"domain":[-0.0176,0.0747],"nice":false,"zero":false},"axis":{"orient":"bottom","values":[0,0.01,0.02,0.03,0.04,0.05,0.06],"format":".2f","labelExpr":"indexof([0,0.04],datum.value)>=0?datum.label:''","title":null}},"y":{"field":"Median","type":"quantitative","scale":{"domain":[-0.0176,0.0747],"nice":false,"zero":false},"axis":{"orient":"right","values":[0,0.01,0.02,0.03,0.04,0.05,0.06],"format":".2f","labelAngle":270,"labelExpr":"indexof([0,0.04],datum.value)>=0?datum.label:''","title":null}}}}
],"resolve":{"scale":{"y":"independent"}}},
{"width":71,"height":64.66,"view":{"stroke":null},"data":{"values":[{}]},"mark":{"type":"text"},"encoding":{"text":{"value":""}}},
{"width":97.6,"height":64.66,"data":{"name":"logs"},"transform":[{"filter":{"field":"Median","valid":true}}],"layer":[
{"mark":{"type":"point","filled":false,"color":"black","size":22,"strokeWidth":0.9,"opacity":1},"encoding":{"x":{"field":"SD","type":"quantitative","scale":{"domain":[-4.4,-0.975],"nice":false,"zero":false},"axis":{"orient":"bottom","values":[-4,-3.5,-3,-2.5,-2,-1.5,-1],"format":".1f","labelExpr":"indexof([-4,-3,-2,-1],datum.value)>=0?datum.label:''","title":null}},"y":{"field":"Median","type":"quantitative","scale":{"domain":[-6.54,-2.48],"nice":false,"zero":false},"axis":null}}},
{"transform":[{"loess":"Median","on":"SD","bandwidth":0.6667}],"mark":{"type":"line","color":"#DF536B","strokeWidth":1,"clip":true},"encoding":{"x":{"field":"SD","type":"quantitative","scale":{"domain":[-4.4,-0.975],"nice":false,"zero":false},"axis":{"orient":"bottom","values":[-4,-3.5,-3,-2.5,-2,-1.5,-1],"format":".1f","labelExpr":"indexof([-4,-3,-2,-1],datum.value)>=0?datum.label:''","title":null}},"y":{"field":"Median","type":"quantitative","scale":{"domain":[-6.54,-2.48],"nice":false,"zero":false},"axis":null}}}
]},
{"width":97.6,"height":64.66,"data":{"name":"logs"},"transform":[{"filter":{"field":"Median","valid":true}}],"layer":[
{"mark":{"type":"point","filled":false,"color":"black","size":22,"strokeWidth":0.9,"opacity":1},"encoding":{"x":{"field":"IQR","type":"quantitative","scale":{"domain":[-4.42,-1.24],"nice":false,"zero":false},"axis":null},"y":{"field":"Median","type":"quantitative","scale":{"domain":[-6.54,-2.48],"nice":false,"zero":false},"axis":null}}},
{"transform":[{"loess":"Median","on":"IQR","bandwidth":0.6667}],"mark":{"type":"line","color":"#DF536B","strokeWidth":1,"clip":true},"encoding":{"x":{"field":"IQR","type":"quantitative","scale":{"domain":[-4.42,-1.24],"nice":false,"zero":false},"axis":null},"y":{"field":"Median","type":"quantitative","scale":{"domain":[-6.54,-2.48],"nice":false,"zero":false},"axis":null}}}
]},
{"width":97.6,"height":64.66,"data":{"name":"logs"},"transform":[{"filter":{"field":"Median","valid":true}}],"layer":[
{"mark":{"type":"point","filled":false,"color":"black","size":22,"strokeWidth":0.9,"opacity":1},"encoding":{"x":{"field":"MAD","type":"quantitative","scale":{"domain":[-5.16,-1.75],"nice":false,"zero":false},"axis":{"orient":"bottom","values":[-5,-4.5,-4,-3.5,-3,-2.5,-2],"format":".1f","labelExpr":"indexof([-5,-4,-3,-2],datum.value)>=0?datum.label:''","title":null}},"y":{"field":"Median","type":"quantitative","scale":{"domain":[-6.54,-2.48],"nice":false,"zero":false},"axis":null}}},
{"transform":[{"loess":"Median","on":"MAD","bandwidth":0.6667}],"mark":{"type":"line","color":"#DF536B","strokeWidth":1,"clip":true},"encoding":{"x":{"field":"MAD","type":"quantitative","scale":{"domain":[-5.16,-1.75],"nice":false,"zero":false},"axis":{"orient":"bottom","values":[-5,-4.5,-4,-3.5,-3,-2.5,-2],"format":".1f","labelExpr":"indexof([-5,-4,-3,-2],datum.value)>=0?datum.label:''","title":null}},"y":{"field":"Median","type":"quantitative","scale":{"domain":[-6.54,-2.48],"nice":false,"zero":false},"axis":null}}}
]},
{"width":97.6,"height":64.66,"data":{"name":"logs"},"transform":[{"filter":{"field":"Median","valid":true}}],"layer":[
{"mark":{"type":"point","filled":false,"color":"black","size":22,"strokeWidth":0.9,"opacity":1},"encoding":{"x":{"field":"HVI","type":"quantitative","scale":{"domain":[-5.38,2.69],"nice":false,"zero":false},"axis":null},"y":{"field":"Median","type":"quantitative","scale":{"domain":[-6.54,-2.48],"nice":false,"zero":false},"axis":null}}},
{"transform":[{"loess":"Median","on":"HVI","bandwidth":0.6667}],"mark":{"type":"line","color":"#DF536B","strokeWidth":1,"clip":true},"encoding":{"x":{"field":"HVI","type":"quantitative","scale":{"domain":[-5.38,2.69],"nice":false,"zero":false},"axis":null},"y":{"field":"Median","type":"quantitative","scale":{"domain":[-6.54,-2.48],"nice":false,"zero":false},"axis":null}}}
]},
{"width":97.6,"height":64.66,"data":{"name":"logs"},"transform":[{"filter":{"field":"Median","valid":true}}],"layer":[
{"mark":{"type":"bar","color":"#D3D3D3","binSpacing":0,"clip":true},"encoding":{"x":{"field":"Median","type":"quantitative","bin":{"step":1,"anchor":-6.5},"scale":{"domain":[-6.54,-2.48],"nice":false,"zero":false},"axis":{"orient":"bottom","values":[-6,-5,-4,-3],"format":"d","title":null}},"y":{"aggregate":"count","type":"quantitative","scale":{"domain":[-0.88,22.88],"nice":false,"zero":false},"axis":null}}},
{"transform":[{"density":"Median","bandwidth":0.3,"extent":[-6.54,-2.48]}],"mark":{"type":"line","color":"red","strokeWidth":1,"clip":true},"encoding":{"x":{"field":"value","type":"quantitative","scale":{"domain":[-6.54,-2.48],"nice":false,"zero":false},"axis":{"orient":"bottom","values":[-6,-5,-4,-3],"format":"d","title":null}},"y":{"field":"density","type":"quantitative","scale":{"domain":[-0.022,0.572],"nice":false,"zero":false},"axis":null}}},
{"mark":{"type":"rule","color":"black","strokeWidth":0.8},"encoding":{"x":{"field":"Median","type":"quantitative","scale":{"domain":[-6.54,-2.48],"nice":false,"zero":false},"axis":{"orient":"bottom","values":[-6,-5,-4,-3],"format":"d","title":null}},"y":{"datum":-0.88,"type":"quantitative","scale":{"domain":[-0.88,22.88],"nice":false,"zero":false},"axis":null},"y2":{"datum":0.66}}},
{"data":{"values":[{"name":"Median"}]},"mark":{"type":"text","fontSize":18,"fontWeight":"bold","dy":-20},"encoding":{"text":{"field":"name"}}},
{"mark":{"type":"point","opacity":0},"encoding":{"x":{"field":"Median","type":"quantitative","scale":{"domain":[-6.54,-2.48],"nice":false,"zero":false},"axis":{"orient":"bottom","values":[-6,-5,-4,-3],"format":"d","title":null}},"y":{"field":"Median","type":"quantitative","scale":{"domain":[-6.54,-2.48],"nice":false,"zero":false},"axis":{"orient":"right","values":[-6,-5,-4,-3],"format":"d","labelAngle":270,"labelExpr":"indexof([-6,-4],datum.value)>=0?datum.label:''","title":null}}}}
],"resolve":{"scale":{"y":"independent"}}}
],
"config":{
"font":"Liberation Sans",
"mark":{"font":"Liberation Sans"},
"text":{"font":"Liberation Sans"},
"view":{"stroke":"black","strokeWidth":1},
"axis":{"tickSize":5,"tickColor":"black","tickWidth":1,"domain":false,"grid":false,"labelFont":"Liberation Sans","labelFontSize":8,"labelColor":"#222","labelPadding":5,"labelOverlap":false,"labelFlush":false},
"title":{"font":"DejaVu Serif","fontSize":20,"fontWeight":"normal","color":"black"}
}
}
